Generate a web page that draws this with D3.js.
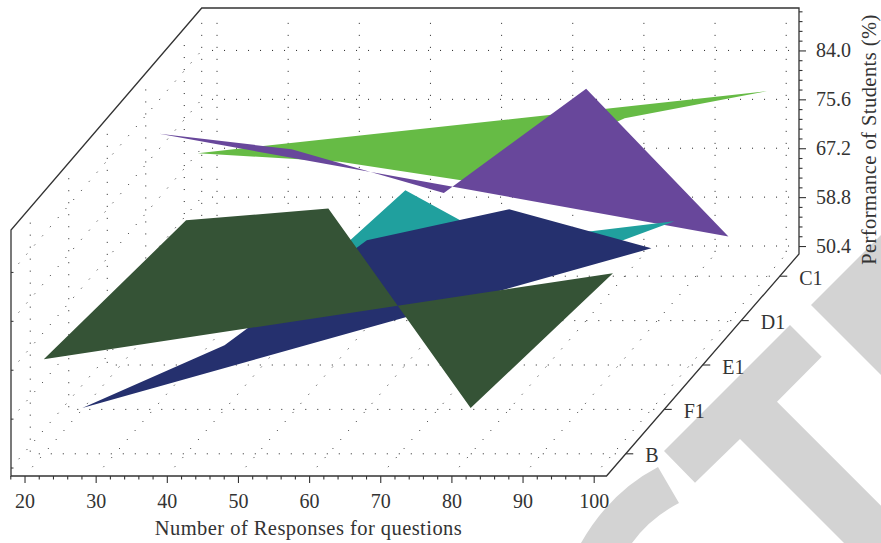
<!DOCTYPE html>
<html><head><meta charset="utf-8">
<script src="https://cdn.jsdelivr.net/npm/d3@7/dist/d3.min.js"></script>
<style>html,body{margin:0;padding:0;background:#fff}svg{display:block}text{font-family:"Liberation Serif",serif;fill:#333}</style>
</head><body><svg id="c" width="881" height="543"></svg>
<script>
const categories = ["B","F1","E1","D1","C1"];
const xTicks = [20,30,40,50,60,70,80,90,100];
const xMinor = [18,22,24,26,28,32,34,36,38,42,44,46,48,52,54,56,58,62,64,66,68,72,74,76,78,82,84,86,88,92,94,96,98];
const zTicks = [50.4,58.8,67.2,75.6,84.0];
const zMinor = [52.08,53.76,55.44,57.12,60.48,62.16,63.84,65.52,68.88,70.56,72.24,73.92,77.28,78.96,80.64,82.32,85.68,87.36,89.04,90.72];
const xB  = [20,40,60,80,100],   vB  = [65.29,89.13,91.19,56.88,80.05];
const xF1 = [20,40,60,80,100],   vF1 = [49.27,60.07,78.08,83.40,76.71];
const xE1 = [20,40,60,80,97.8],  vE1 = [62.24,56.92,79.04,65.67,73.73];
const xD1 = [20,38.6,60,80,100], vD1 = [81.12,78.46,70.97,88.87,63.49];
const xC1 = [20,40,60,80,100],   vC1 = [70.16,68.70,64.95,76.16,80.80];
const seriesOrder = ["C1","D1","E1","F1","B"];
const seriesColors = {C1:"#66bb45",D1:"#68479b",E1:"#20a09e",F1:"#25306e",B:"#355336"};
const seriesX = {B:xB,F1:xF1,E1:xE1,D1:xD1,C1:xC1};
const seriesV = {B:vB,F1:vF1,E1:vE1,D1:vD1,C1:vC1};

const svg = d3.select("#c");
const x = d3.scaleLinear().domain([18.1,101.8]).range([11,606.5]);
const z = d3.scaleLinear().domain([49.03,91.29]).range([254,8]);
const d = d3.scalePoint().domain(categories).range([0,1]).padding(0.5);
const depthDX = 192.5, depthDY = 222;
const P = (xv,zv,t)=>[x(xv)+depthDX*t, z(zv)+depthDY*(1-t)];
const line = d3.line();
const ink = "#333";
const xBackLeft = 17.85;

// watermark
const wm = svg.append("g").attr("fill","#d3d3d3");
wm.append("path").attr("d","M790,325L821.7,356.7L777,401.7L881,505.7L881,543L844,543L740,439L695,482.7L664,451Z");
wm.append("path").attr("d","M811,305L881,235L881,375Z");
wm.append("path").attr("d","M658,467L679,503Q650,518 632,543L581,543Q610,492 658,467Z");

// dotted grid
const grid = svg.append("g").attr("fill","none").attr("stroke","#222").attr("stroke-width",1).attr("stroke-dasharray","1 11");
const gridPath = pts => grid.append("path").attr("d",line(pts));
const xLo=19.3, xHi=100.4, zLo=49.4, zHi=90.6, tLo=0.04;
zTicks.forEach(v=>{ gridPath([P(xLo,v,1),P(xHi,v,1)]); gridPath([P(18.1,v,tLo),P(xBackLeft,v,1)]); });
xTicks.forEach(v=>{ gridPath([P(v,zLo,1),P(v,zHi,1)]); gridPath([P(v,49.03,tLo),P(v,49.03,1)]); });
categories.forEach(c=>{ const t=d(c); gridPath([P(18.1,zLo,t),P(18.1,zHi,t)]); gridPath([P(xLo,49.03,t),P(xHi,49.03,t)]); });
gridPath([P(xBackLeft,zLo,1),P(xBackLeft,zHi,1)]);

// surfaces, back to front
seriesOrder.forEach(c=>{
  const t=d(c);
  svg.append("path").attr("fill",seriesColors[c])
    .attr("d",line(seriesX[c].map((xv,i)=>P(xv,seriesV[c][i],t)))+"Z");
});

// box outline
svg.append("path").attr("fill","none").attr("stroke",ink).attr("stroke-width",1.3).attr("stroke-linejoin","miter")
  .attr("d",line([P(18.1,49.03,0),P(18.1,91.29,0),P(xBackLeft,91.29,1),P(101.8,91.29,1),P(101.8,49.03,1),P(101.8,49.03,0)])+"Z");

// x axis
const axY = z(49.03)+depthDY;
const xa = svg.append("g").attr("transform",`translate(0,${axY})`);
xa.call(d3.axisBottom(x).tickValues(xTicks).tickSize(7).tickPadding(11).tickFormat(d3.format("d")));
xa.select(".domain").remove();
xa.selectAll("line").attr("stroke",ink).attr("stroke-width",1.1);
xa.selectAll("text").attr("font-size",20).attr("fill",ink);
const xm = svg.append("g").attr("transform",`translate(0,${axY})`);
xm.call(d3.axisBottom(x).tickValues(xMinor).tickSize(3.5).tickFormat(""));
xm.select(".domain").remove();
xm.selectAll("line").attr("stroke",ink).attr("stroke-width",1.1);

// z axis
const za = svg.append("g").attr("transform",`translate(${x(101.8)+depthDX},0)`);
za.call(d3.axisRight(z).tickValues(zTicks).tickSize(7).tickPadding(10).tickFormat(d3.format(".1f")));
za.select(".domain").remove();
za.selectAll("line").attr("stroke",ink).attr("stroke-width",1.1);
za.selectAll("text").attr("font-size",20).attr("fill",ink);
const zm = svg.append("g").attr("transform",`translate(${x(101.8)+depthDX},0)`);
zm.call(d3.axisRight(z).tickValues(zMinor).tickSize(3.5).tickFormat(""));
zm.select(".domain").remove();
zm.selectAll("line").attr("stroke",ink).attr("stroke-width",1.1);

// left edge ticks
zTicks.forEach(v=>{ const p=P(18.1,v,0);
  svg.append("path").attr("stroke",ink).attr("stroke-width",1).attr("d",line([p,[p[0]+2.5,p[1]]])); });

// depth axis ticks and labels
categories.forEach(c=>{ const p=P(101.8,49.03,d(c));
  svg.append("path").attr("stroke",ink).attr("stroke-width",1.1).attr("d",line([p,[p[0]+7.5,p[1]]]));
  svg.append("text").attr("x",p[0]+19.5).attr("y",p[1]+8.5).attr("font-size",20).attr("fill",ink).text(c);
});

// titles
svg.append("text").attr("x",308.5).attr("y",535).attr("text-anchor","middle").attr("font-size",20.5).attr("letter-spacing",0.45).text("Number of Responses for questions");
svg.append("text").attr("transform","translate(876,139.5) rotate(-90)").attr("text-anchor","middle").attr("font-size",20.5).attr("letter-spacing",0.45).text("Performance of Students (%)");
</script></body></html>
